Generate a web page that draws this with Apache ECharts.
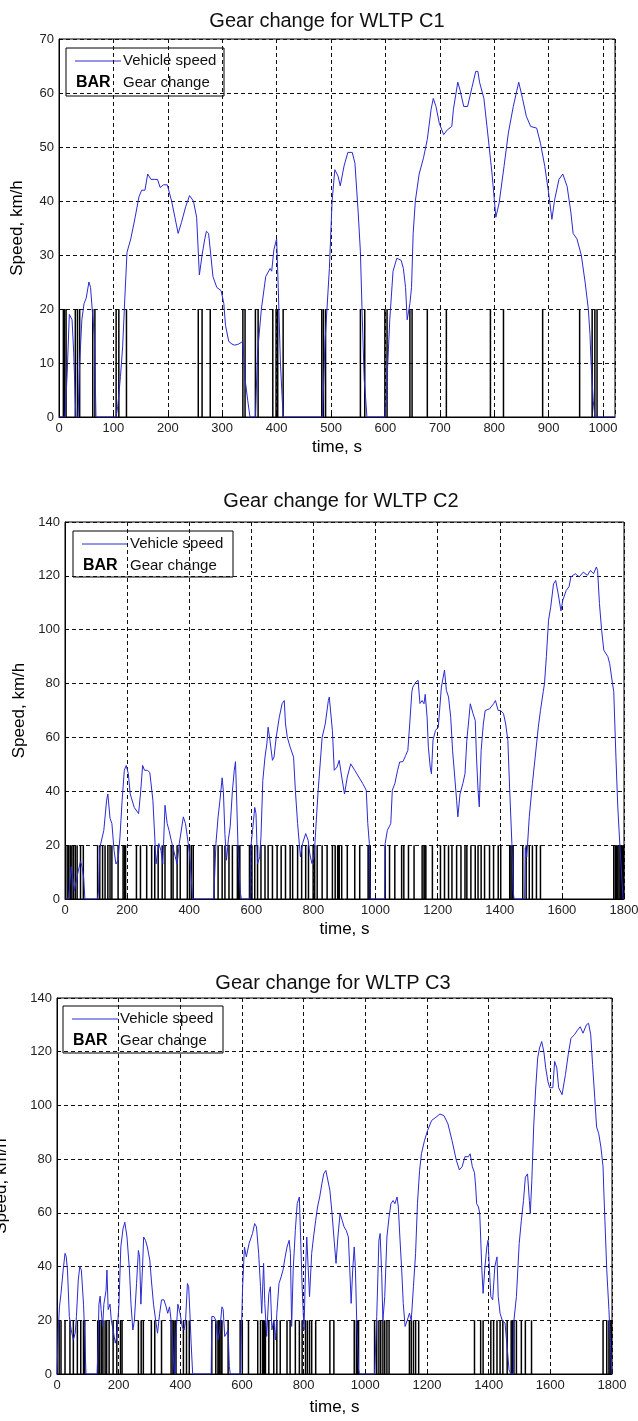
<!DOCTYPE html>
<html>
<head>
<meta charset="utf-8">
<script src="https://cdn.jsdelivr.net/npm/echarts@6/dist/echarts.min.js"></script>
<style>
  html, body { margin: 0; padding: 0; background: #fff; }
  #chart { width: 638px; height: 1421px; }
</style>
</head>
<body>
<div id="chart"></div>
<script>
// speed traces: [time s, speed km/h]
const c1Speed = [[0,0],[11,0],[15,8],[19,19],[24,18],[27,12],[31,0],[35,0],[38,10],[42,18],[46,21],[50,22],[55,25],[58,24],[61,20],[65,15],[68,0],[105,0],[108,2],[113,7.5],[117,13],[121,22],[125,30.5],[132,33],[140,37],[147,40.8],[152,42],[158,42],[163,45],[169,44],[175,44],[181,44],[186,42.5],[192,43],[199,43],[207,40],[213,37],[219,34],[225,36],[233,39],[240,41],[247,40],[253,37],[258,26.3],[263,30],[268,33],[271,34.4],[275,34],[279,30],[283,26],[290,24],[298,23.4],[303,21],[306,17],[312,14],[318,13.5],[323,13.3],[330,13.5],[338,14],[342,7],[347,3],[351,0],[361,0],[365,12],[372,20],[380,26],[388,27.5],[391,27],[395,31],[400,33],[403,24],[407,10],[410,4],[412,0],[484,0],[486,5],[489,14],[497,27.5],[502,40],[507,45.8],[513,44.6],[517,42.8],[524,46.5],[531,49],[539,49],[544,47],[550,37.8],[554,30.6],[557,20],[561,7],[564,3],[566,0],[600,0],[603,7],[608,18],[614,27],[621,29.4],[629,29],[633,27.5],[637,24],[640,18],[645,21],[648,24],[651,34],[655,40],[662,45],[670,48],[677,51.4],[684,57],[688,59],[693,57.5],[699,54.4],[707,52.3],[714,53.2],[722,53.8],[725,57],[733,62],[737,60.6],[744,57.5],[751,57.5],[759,61],[766,64],[770,64],[773,62],[781,59],[788,52.6],[796,45],[803,37],[809,39.6],[818,46.4],[826,52.6],[835,57.5],[845,62],[852,59],[859,55.7],[867,53.8],[878,53.5],[885,50.7],[893,46.4],[900,41.5],[906,36.6],[911,40.2],[919,44],[926,45],[934,42.7],[941,37.8],[945,34],[952,33],[960,30],[967,25],[973,20],[976,15.3],[978,10],[982,3],[985,0],[1022,0]];

const c2Speed = [[0,0],[11,0],[15,5],[20,12],[25,8],[30,3],[35,6],[42,10],[50,14],[55,12],[60,8],[64,0],[105,0],[108,3],[112,19],[125,25.5],[134,36.7],[138,39],[145,30],[151,28],[158,18],[164,13],[171,14.4],[177,23],[184,36.7],[191,47.8],[197,49.6],[204,46.5],[210,39],[223,34],[237,31.7],[243,39],[250,49.6],[256,47.8],[265,47.8],[273,47],[283,36.7],[289,23],[293,13],[302,20.6],[309,18],[315,13],[322,34.8],[329,28],[335,25.5],[342,21.8],[355,15.7],[361,13],[368,20.6],[381,30.5],[388,28],[394,23],[401,17],[407,7],[411,0],[478,0],[480,3],[486,20.6],[493,30.5],[499,36.7],[506,45],[510,40],[515,24],[520,14.4],[526,22],[532,27],[539,40],[545,47.8],[549,51],[552,40],[558,15.7],[565,2],[568,0],[596,0],[598,19],[604,25.5],[611,34],[615,31.7],[620,13],[627,15.7],[631,23],[637,44],[644,52.7],[650,57.6],[654,63.8],[660,58.9],[668,51.5],[673,52.7],[680,60],[690,67.5],[699,72.5],[706,73.7],[710,65],[716,60],[725,56.4],[736,52.7],[742,40],[749,28],[758,15.7],[765,20.6],[775,24.3],[783,21.8],[788,17],[795,13.2],[802,15.7],[815,40],[828,60],[838,65],[848,73.7],[851,75],[861,62.6],[867,47.8],[876,49],[883,51.5],[891,45.3],[900,39],[909,45.3],[920,50.2],[933,47.8],[946,45.3],[959,42.8],[970,40.4],[975,28],[980,20.6],[983,0],[1029,0],[1031,20.6],[1038,25.5],[1049,28],[1054,40.4],[1062,42.8],[1071,47.8],[1078,50.9],[1088,51],[1097,53.3],[1104,55.2],[1110,65],[1117,77],[1120,78.7],[1130,80.6],[1137,81.2],[1143,72.6],[1150,73.7],[1156,72.5],[1160,76],[1166,67.5],[1170,56.4],[1176,49],[1180,46.5],[1185,59],[1193,62.6],[1202,63.8],[1212,78.7],[1222,85],[1228,77.5],[1235,75],[1242,67.5],[1248,55.2],[1255,45.3],[1261,36.7],[1265,30.5],[1272,39],[1281,42.8],[1288,46.5],[1294,59],[1301,67.5],[1305,72.5],[1314,68.8],[1321,66.3],[1325,52.7],[1330,40.4],[1334,34.2],[1340,55.2],[1347,65],[1353,70],[1367,70.6],[1380,72.5],[1386,73.7],[1395,70],[1403,70],[1412,68.8],[1419,65],[1426,58.9],[1432,40.4],[1439,20.6],[1443,3],[1446,0],[1480,0],[1482,19],[1487,15.7],[1495,30.5],[1505,42.8],[1514,52.7],[1524,63.8],[1531,70],[1540,77],[1544,80],[1550,90],[1557,103.5],[1564,108.4],[1573,117],[1580,118.3],[1588,113.4],[1597,107],[1603,111],[1614,114.6],[1623,116],[1629,119.6],[1643,120.8],[1656,119.6],[1669,121.4],[1682,120.2],[1692,122],[1702,120.8],[1711,123.3],[1715,122],[1721,109.7],[1728,99.8],[1735,92.4],[1748,90],[1754,87.4],[1763,80],[1767,77],[1774,52.7],[1780,34.2],[1787,19.4],[1794,5.8],[1797,0],[1800,0]];

const c3Speed = [[0,0],[4,16],[8,25],[13,30],[20,38.7],[26,44.9],[30,43.6],[34,38.7],[40,21.4],[46,16.4],[53,12.7],[59,15.2],[63,21.4],[69,35],[74,40],[79,38.7],[86,26],[90,14],[94,0],[130,0],[133,10],[136,26],[140,29],[143,24],[148,17.7],[152,26],[159,31],[162,38.7],[166,24],[172,26],[176,20],[182,16.4],[189,11.5],[194,14],[201,26],[207,47.3],[214,54],[220,56.5],[227,51],[235,38.7],[240,26],[246,16.4],[251,20],[258,33.7],[264,46],[268,43.6],[272,26],[277,38.7],[281,51],[287,49.8],[293,47.3],[301,42.4],[306,35],[313,26],[320,20],[326,15.2],[333,22.6],[339,27.6],[347,27.6],[354,25],[359,22.6],[365,25],[370,20],[376,9],[380,1.6],[384,0],[386,15],[392,26],[399,22.6],[406,17.7],[412,16.4],[417,20],[423,33.7],[427,32.5],[431,22.6],[435,11.5],[440,0],[500,0],[502,21.4],[509,21.4],[515,20],[522,12.7],[528,16.4],[535,25],[539,24],[544,14],[550,15.2],[555,16.4],[559,2.8],[562,0],[595,0],[597,11.5],[602,32.5],[608,47.3],[614,43.6],[623,48.6],[634,52.3],[641,56],[647,54.8],[654,44.9],[660,32.5],[664,22.6],[670,41.2],[674,26.3],[680,14],[687,30],[692,32.5],[697,16.4],[703,20],[709,12.7],[713,22.6],[720,33.7],[727,36.2],[733,38.7],[740,43.6],[746,47.3],[753,49.8],[757,44.9],[761,17.7],[766,38.7],[773,53.5],[779,63.4],[786,65.9],[790,66],[795,32.5],[801,16.4],[806,38.7],[810,51],[815,51],[819,28.8],[826,44.9],[832,51],[839,57.2],[845,62.2],[852,65.9],[859,70.8],[865,74.5],[872,75.8],[878,76],[885,68.4],[892,59.7],[898,51],[905,41.2],[911,51],[918,59.7],[925,57.2],[931,54.8],[938,53.5],[945,51],[951,35],[954,26.3],[959,38.7],[964,47.3],[968,38.7],[972,20],[978,1.6],[981,0],[1030,0],[1037,21.4],[1044,49.8],[1048,52.3],[1053,37.5],[1057,20],[1063,28.8],[1070,51],[1077,58.5],[1083,63.4],[1090,64.6],[1096,63.4],[1103,65.9],[1107,62.2],[1112,51],[1118,38.7],[1123,26.3],[1129,17.7],[1136,20],[1143,22.6],[1149,20],[1156,32.5],[1163,44.9],[1169,63.4],[1176,75.8],[1182,82],[1192,87],[1202,90.7],[1215,94.4],[1229,95.6],[1242,96.8],[1255,96.2],[1268,93.1],[1281,87],[1295,79.6],[1305,76],[1314,77.2],[1323,80.9],[1334,80.9],[1340,82],[1347,77.2],[1354,75],[1358,69.6],[1361,63.4],[1367,62.2],[1371,59.7],[1374,51],[1378,38.7],[1382,30],[1387,38.7],[1394,47.3],[1398,49.8],[1400,44.9],[1407,28.8],[1413,27.6],[1420,40],[1427,43.6],[1431,28.8],[1437,22.6],[1444,20],[1453,19],[1460,10],[1466,1.6],[1472,0],[1480,0],[1482,20],[1490,28.8],[1499,48.6],[1506,57.2],[1513,64.6],[1519,73.3],[1526,74.5],[1532,64.6],[1535,59.7],[1540,72],[1546,92],[1552,105.4],[1559,117.7],[1565,121.4],[1572,123.8],[1579,120],[1585,114],[1592,109],[1598,106.6],[1608,106.6],[1614,116.4],[1621,114],[1627,106.6],[1638,104],[1649,111.5],[1658,118.9],[1667,125],[1678,126.3],[1688,128],[1697,129.3],[1706,126.9],[1717,130],[1724,130.6],[1731,126.3],[1737,115.2],[1744,103],[1750,92],[1757,89.5],[1764,84.5],[1771,77.2],[1773,69.6],[1777,57.2],[1783,38.7],[1790,24],[1797,6.5],[1800,0]];

// gear change instants (s); every bar is drawn to height barLevel
const c1Shifts = [8,10,13,30,34,38,62,66,105,110,124,256,263,278,338,342,361,366,393,399,402,412,483,486,490,554,562,599,603,645,649,677,712,793,817,889,957,980,985,989];
const c2Shifts = [7,12,17,22,27,33,39,50,59,105,112,121,129,138,145,151,171,187,191,195,230,243,263,279,289,300,313,322,342,348,361,371,394,401,407,413,480,493,506,515,528,539,555,559,563,594,598,602,611,620,631,644,654,668,683,696,710,725,733,749,762,775,784,799,804,812,828,844,861,870,878,881,883,891,909,933,949,976,980,983,1031,1045,1062,1084,1091,1106,1124,1150,1156,1159,1162,1183,1209,1222,1235,1246,1261,1275,1288,1294,1307,1321,1330,1340,1351,1367,1380,1395,1403,1432,1436,1440,1443,1474,1485,1495,1505,1518,1531,1767,1772,1776,1780,1784,1788,1792,1796,1799];
const c3Shifts = [7,13,26,42,53,66,77,86,88,90,132,136,139,145,149,156,161,169,182,194,206,211,264,273,280,306,317,339,370,376,379,383,386,410,420,429,502,515,522,525,528,532,535,555,594,601,621,651,660,667,670,673,676,687,703,713,724,746,756,773,786,795,806,812,819,826,839,885,898,964,971,975,978,1030,1037,1044,1050,1057,1063,1070,1077,1143,1149,1156,1163,1173,1354,1374,1382,1407,1416,1427,1437,1446,1460,1473,1477,1482,1490,1506,1519,1539,1771,1783,1790,1794,1798];
const barLevel = 20;

const titles = ['Gear change for WLTP C1', 'Gear change for WLTP C2', 'Gear change for WLTP C3'];
const xMax = [1022, 1800, 1800];
const xStep = [100, 200, 200];
const yMax = [70, 140, 140];
const yStep = [10, 20, 20];

const FONT = '"Liberation Sans", Arial, sans-serif';
const SPEED_BLUE = '#2a2ad2';

// plot boxes in px (left, top, width, height)
const boxes = [
  { left: 59, top: 39, width: 556, height: 378 },
  { left: 65, top: 522, width: 559, height: 377 },
  { left: 57, top: 998, width: 555, height: 376 }
];
const titlePos = [[322, 6], [336, 486], [328, 968]];

const chart = echarts.init(document.getElementById('chart'), null, { renderer: 'canvas' });

const gridStyle = { color: '#111', type: [4, 3], width: 1 };
const plain = v => String(v);

const option = {
  backgroundColor: '#fff',
  animation: false,
  title: titles.map((t, i) => ({
    text: t,
    left: titlePos[i][0],
    top: titlePos[i][1],
    textAlign: 'center',
    textStyle: { fontFamily: FONT, fontSize: 20, fontWeight: 'normal', color: '#111' }
  })),
  grid: boxes.map(b => Object.assign({
    show: true, borderColor: '#000', borderWidth: 1, backgroundColor: '#fff',
    containLabel: false, outerBoundsMode: 'none'
  }, b)),
  xAxis: boxes.map((b, i) => ({
    type: 'value', gridIndex: i, min: 0, max: xMax[i], interval: xStep[i],
    name: 'time, s', nameLocation: 'middle', nameGap: i === 2 ? 25 : 22,
    nameTextStyle: { fontFamily: FONT, fontSize: 17, color: '#000' },
    axisLine: { lineStyle: { color: '#000' } },
    axisTick: { inside: true, length: 4, lineStyle: { color: '#000' } },
    axisLabel: { fontFamily: FONT, fontSize: 13, color: '#222', margin: 5, showMaxLabel: i !== 0, formatter: plain },
    splitLine: { show: true, lineStyle: gridStyle }
  })),
  yAxis: boxes.map((b, i) => ({
    type: 'value', gridIndex: i, min: 0, max: yMax[i], interval: yStep[i],
    name: 'Speed, km/h', nameLocation: 'middle', nameGap: [33, 37, 47][i],
    nameTextStyle: { fontFamily: FONT, fontSize: 17, color: '#000' },
    axisLine: { lineStyle: { color: '#000' } },
    axisTick: { inside: true, length: 4, lineStyle: { color: '#000' } },
    axisLabel: { fontFamily: FONT, fontSize: 13, color: '#222', margin: 5, formatter: plain },
    splitLine: { show: true, lineStyle: gridStyle }
  })),
  series: []
};

const speeds = [c1Speed, c2Speed, c3Speed];
const shifts = [c1Shifts, c2Shifts, c3Shifts];
speeds.forEach((s, i) => {
  option.series.push({
    name: 'Gear change', type: 'bar', xAxisIndex: i, yAxisIndex: i,
    barWidth: 1.5, itemStyle: { color: '#000' }, z: 2,
    data: shifts[i].map(t => [t, barLevel])
  });
  option.series.push({
    name: 'Vehicle speed', type: 'line', xAxisIndex: i, yAxisIndex: i,
    showSymbol: false, symbol: 'none', z: 3,
    lineStyle: { color: SPEED_BLUE, width: 1 },
    data: s
  });
});

// legend boxes like the matlab ones: line sample + "BAR" marker
const legendBoxes = [
  { x: 66, y: 48, w: 158, h: 48 },
  { x: 73, y: 531, w: 160, h: 46 },
  { x: 63, y: 1006, w: 160, h: 47 }
];
option.graphic = legendBoxes.map(l => ({
  type: 'group', z: 100,
  children: [
    { type: 'rect', shape: { x: l.x, y: l.y, width: l.w, height: l.h }, style: { fill: '#fff', stroke: '#000', lineWidth: 1 } },
    { type: 'line', shape: { x1: l.x + 9, y1: l.y + 13, x2: l.x + 55, y2: l.y + 13 }, style: { stroke: SPEED_BLUE, lineWidth: 1 } },
    { type: 'text', style: { x: l.x + 57, y: l.y + 13, text: 'Vehicle speed', fontFamily: FONT, fontSize: 15, fill: '#111', verticalAlign: 'middle' } },
    { type: 'text', style: { x: l.x + 10, y: l.y + 35, text: 'BAR', fontFamily: FONT, fontSize: 16, fontWeight: 'bold', fill: '#000', verticalAlign: 'middle' } },
    { type: 'text', style: { x: l.x + 57, y: l.y + 35, text: 'Gear change', fontFamily: FONT, fontSize: 15, fill: '#111', verticalAlign: 'middle' } }
  ]
}));

chart.setOption(option);
</script>
</body>
</html>
